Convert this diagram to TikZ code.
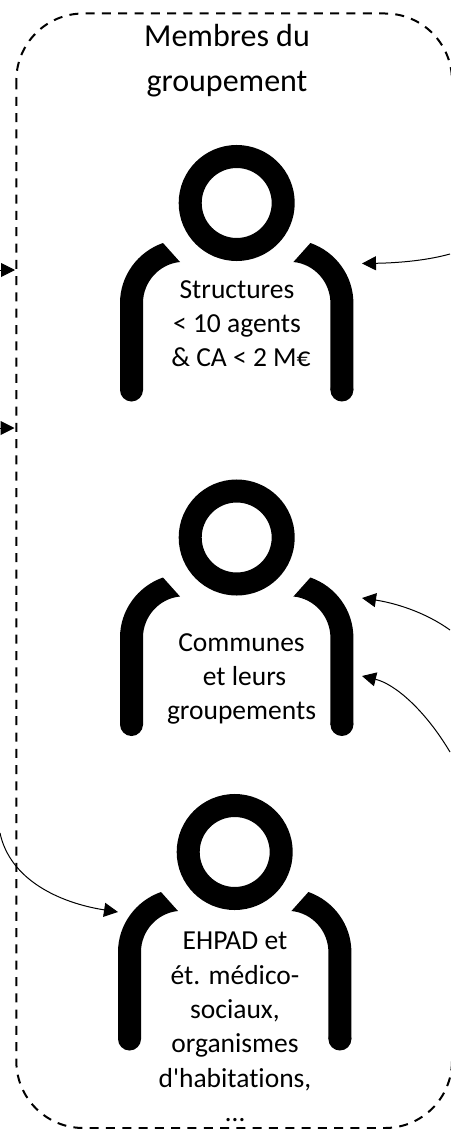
\documentclass[tikz,border=0pt]{standalone}
\usepackage{fontspec}
\setmainfont[Ligatures={NoCommon}]{Carlito}
\usetikzlibrary{arrows.meta}
\tikzset{
 x=1pt,y=-1pt,
 head/.style={circle,draw=black,line width=23pt,minimum size=93pt,inner sep=0pt,outer sep=0pt},
 lbl/.style={align=center,font=\fontsize{27.5}{34.3}\selectfont,text=black,inner sep=0pt},
 ttl/.style={align=center,font=\fontsize{32}{45}\selectfont,text=black,inner sep=0pt},
 link/.style={line width=1pt,black,-{Triangle[length=14pt,width=14pt]}},
 frame/.style={draw=black,line width=2pt,dash pattern=on 9pt off 7.3pt,rounded corners=67pt},
 armshape/.pic={
  \fill[black] (-116.7,187) -- (-116.7,100) .. controls (-116.7,73) and (-99.2,48.9) .. (-73.7,40)
    -- (-56.7,59) .. controls (-77.6,61) and (-93.7,79) .. (-93.7,100) -- (-93.7,187) -- cycle;
  \fill[black] (-105.2,187) circle (11.5);
 },
 pics/person/.style={code={
  \node[head] (-h) at (0,0) {};
  \pic at (0,0) {armshape};
  \pic[xscale=-1] at (0,0) {armshape};
 }}
}
\begin{document}
\begin{tikzpicture}
\useasboundingbox (0,0) rectangle (450,1129);
\draw[frame] (16.3,13.5) rectangle (452,1128);
\node[ttl] (title) at (227,61) {Membres du\\groupement};
\pic (p1) at (236.7,203) {person};
\pic (p2) at (236.7,537.5) {person};
\pic (p3) at (234.7,852) {person};
\node[lbl] (t1) at (237,323.5) {Structures\\< 10 agents\\\hspace*{8pt}\& CA < 2 M€};
\node[lbl] (t2) at (241.5,679) {Communes\\\hspace*{6pt}et leurs\\groupements};
\node[lbl] (t3) at (235,1027) {EHPAD et\\ét. médico-\\sociaux,\\organismes\\d\textquotesingle habitations,\\…};
\coordinate (a1s) at (450,254); \coordinate (a1e) at (362,263.5);
\coordinate (a2s) at (450,630); \coordinate (a2e) at (362,598);
\coordinate (a3s) at (450,752); \coordinate (a3e) at (362,676);
\coordinate (a4s) at (0,833); \coordinate (a4e) at (118,912);
\coordinate (a5s) at (0,270); \coordinate (a5e) at (15,270);
\coordinate (a6s) at (0,428); \coordinate (a6e) at (14.5,428);
\draw[link] (a1s) .. controls (425,261) and (395,263) .. (a1e);
\draw[link] (a2s) .. controls (425,612) and (395,603) .. (a2e);
\draw[link] (a3s) .. controls (425,710) and (395,684) .. (a3e);
\draw[link] (a4s) .. controls (10,880) and (60,903) .. (a4e);
\draw[link] (a5s) -- (a5e);
\draw[link] (a6s) -- (a6e);
\end{tikzpicture}
\end{document}
